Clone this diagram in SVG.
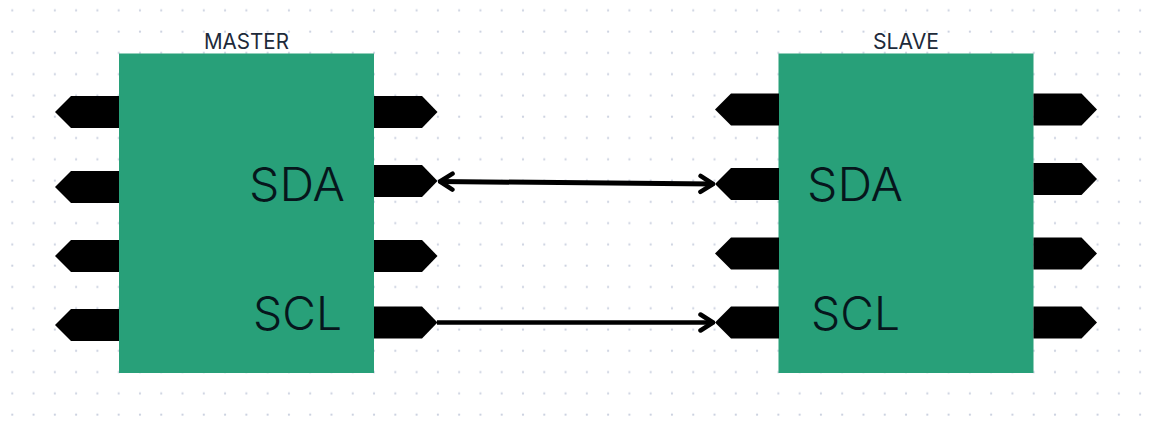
<svg xmlns="http://www.w3.org/2000/svg" width="1155" height="434" viewBox="0 0 1155 434">
<style>
.box{fill:#28a079}
.pin{fill:#000}
.title{font-family:"Inter","Liberation Sans",sans-serif;font-size:21px;fill:#1d2a3a}
.sig{font-family:"Inter","Liberation Sans",sans-serif;font-size:46px;font-weight:300;fill:#06161c}
.wire{fill:none;stroke:#000;stroke-width:4.500}
.wire.thick{stroke-width:5}
</style>
<defs>
<pattern id="dots" x="1.64" y="0" width="21.28" height="21.28" patternUnits="userSpaceOnUse">
<circle cx="10.64" cy="10.4" r="1.100" fill="#ccd2e0"/>
</pattern>
<marker id="arrow" viewBox="-16 -11 18 22" refX="0" refY="0" markerWidth="18" markerHeight="22" markerUnits="userSpaceOnUse" orient="auto-start-reverse">
<path d="M-12.500 -8L0 0L-12.500 8" fill="none" stroke="#000" stroke-width="4.500" stroke-linecap="round" stroke-linejoin="miter"/>
</marker>
<path id="pl" d="M0 0L16 -16H64V16H16Z"/>
<path id="pr" d="M0 -16H48L63.500 0L48 16H0Z"/>
</defs>
<rect width="1155" height="434" fill="#fff"/>
<rect x="1" y="0" width="1150" height="424" fill="url(#dots)"/>
<g id="master">
<rect class="box" x="119" y="53.500" width="255" height="319.500"/>
<text class="title" x="204" y="48.500" textLength="85" lengthAdjust="spacingAndGlyphs">MASTER</text>
<text class="sig" x="249" y="200.500" textLength="96" lengthAdjust="spacingAndGlyphs">SDA</text>
<text class="sig" x="253" y="329.500" textLength="89" lengthAdjust="spacingAndGlyphs">SCL</text>
<use class="pin" href="#pl" x="55" y="112"/>
<use class="pin" href="#pl" x="55" y="187"/>
<use class="pin" href="#pl" x="55" y="256"/>
<use class="pin" href="#pl" x="55" y="325"/>
<use class="pin" href="#pr" x="374" y="112"/>
<use class="pin" href="#pr" x="374" y="181"/>
<use class="pin" href="#pr" x="374" y="256"/>
<use class="pin" href="#pr" x="374" y="322.500"/>
</g>
<g id="slave">
<rect class="box" x="778.500" y="53.500" width="255" height="319.500"/>
<text class="title" x="873" y="48.500" textLength="66" lengthAdjust="spacingAndGlyphs">SLAVE</text>
<text class="sig" x="807" y="200.500" textLength="96" lengthAdjust="spacingAndGlyphs">SDA</text>
<text class="sig" x="811" y="329.500" textLength="89" lengthAdjust="spacingAndGlyphs">SCL</text>
<use class="pin" href="#pl" x="715" y="109.500"/>
<use class="pin" href="#pl" x="715" y="184"/>
<use class="pin" href="#pl" x="715" y="253.500"/>
<use class="pin" href="#pl" x="715" y="322.500"/>
<use class="pin" href="#pr" x="1033.500" y="109.500"/>
<use class="pin" href="#pr" x="1033.500" y="179"/>
<use class="pin" href="#pr" x="1033.500" y="253.500"/>
<use class="pin" href="#pr" x="1033.500" y="322.500"/>
</g>
<g id="connectors">
<path class="wire thick" d="M440 181.500L713 184" marker-start="url(#arrow)" marker-end="url(#arrow)"/>
<path class="wire" d="M437 322.500H713" marker-end="url(#arrow)"/>
</g>
</svg>
